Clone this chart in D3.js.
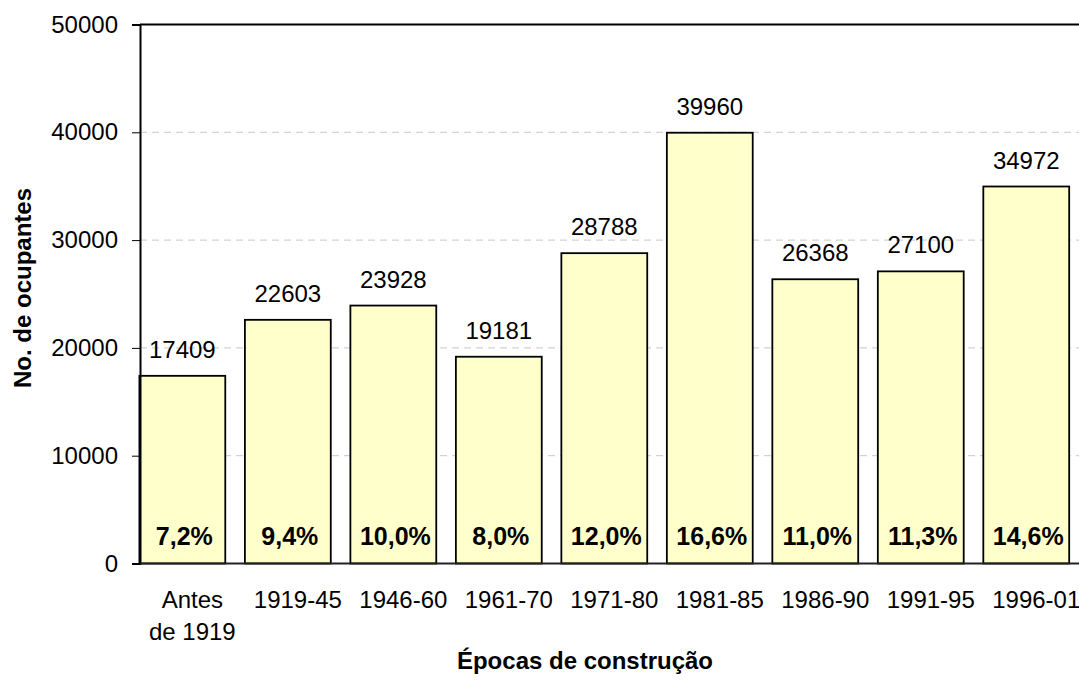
<!DOCTYPE html>
<html>
<head>
<meta charset="utf-8">
<script src="https://cdnjs.cloudflare.com/ajax/libs/d3/7.8.5/d3.min.js"></script>
<style>
  body { margin: 0; background: #fff; }
  svg { font-family: "Liberation Sans", Arial, sans-serif; }
</style>
</head>
<body>
<div id="chart"></div>
<script>
// data
var categories = ["Antes de 1919", "1919-45", "1946-60", "1961-70", "1971-80", "1981-85", "1986-90", "1991-95", "1996-01"];
var occupants = [17409, 22603, 23928, 19181, 28788, 39960, 26368, 27100, 34972];
var shares = ["7,2%", "9,4%", "10,0%", "8,0%", "12,0%", "16,6%", "11,0%", "11,3%", "14,6%"];
var yTicks = [0, 10000, 20000, 30000, 40000, 50000];

var svgWidth = 1079;
var svgHeight = 693;
var fontSize = "24px";

var svg = d3.select("#chart")
    .append("svg")
    .attr("width", svgWidth)
    .attr("height", svgHeight);

// scales
var x = d3.scaleBand()
    .domain(categories)
    .range([129.6, 1079])
    .paddingInner(0.186)
    .paddingOuter(0.093);

var y = d3.scaleLinear()
    .domain([0, 50000])
    .range([563.5, 24.5]);

var axisX = 140;

// gridlines
svg.append("g")
    .selectAll("line")
    .data(yTicks.filter(function(d) { return d > 0 && d < 50000; }))
    .enter()
    .append("line")
    .attr("x1", axisX)
    .attr("x2", svgWidth)
    .attr("y1", function(d) { return y(d); })
    .attr("y2", function(d) { return y(d); })
    .attr("stroke", "#c8c8c8")
    .attr("stroke-dasharray", "7,5")
    .attr("stroke-width", 1);

// top border of plot
svg.append("line")
    .attr("x1", axisX)
    .attr("x2", svgWidth)
    .attr("y1", y(50000))
    .attr("y2", y(50000))
    .attr("stroke", "#000")
    .attr("stroke-width", 2);

// bars
svg.append("g")
    .selectAll("rect")
    .data(occupants)
    .enter()
    .append("rect")
    .attr("x", function(d, i) { return x(categories[i]); })
    .attr("y", function(d) { return y(d); })
    .attr("width", x.bandwidth())
    .attr("height", function(d) { return y(0) - y(d); })
    .attr("fill", "#ffffcc")
    .attr("stroke", "#000")
    .attr("stroke-width", 1.8);

// value labels
svg.append("g")
    .selectAll("text")
    .data(occupants)
    .enter()
    .append("text")
    .attr("x", function(d, i) { return x(categories[i]) + x.bandwidth() / 2; })
    .attr("y", function(d) { return y(d) - 18; })
    .attr("text-anchor", "middle")
    .attr("font-size", fontSize)
    .text(function(d) { return d; });

// share labels
svg.append("g")
    .selectAll("text")
    .data(shares)
    .enter()
    .append("text")
    .attr("x", function(d, i) { return x(categories[i]) + x.bandwidth() / 2 + 2; })
    .attr("y", 545)
    .attr("text-anchor", "middle")
    .attr("font-size", "25px")
    .attr("font-weight", "bold")
    .text(function(d) { return d; });

// y axis
var yAxis = d3.axisLeft(y)
    .tickValues(yTicks)
    .tickSize(8)
    .tickPadding(14)
    .tickFormat(d3.format("d"));

var yG = svg.append("g")
    .attr("transform", "translate(" + axisX + ",0)")
    .call(yAxis);
yG.select(".domain").attr("stroke", "#000").attr("stroke-width", 2);
yG.selectAll(".tick line").attr("stroke", "#000");
yG.selectAll(".tick text")
    .attr("font-size", fontSize)
    .attr("font-family", "Liberation Sans, Arial, sans-serif")
    .attr("fill", "#000");

// x axis baseline
svg.append("line")
    .attr("x1", axisX)
    .attr("x2", svgWidth)
    .attr("y1", y(0))
    .attr("y2", y(0))
    .attr("stroke", "#222")
    .attr("stroke-width", 2);

// category labels (wrapped), sitting a little right of the bar centres
svg.append("g")
    .selectAll("text")
    .data(categories)
    .enter()
    .append("text")
    .attr("x", function(d) { return x(d) + x.bandwidth() / 2 + 10; })
    .attr("y", 600)
    .attr("text-anchor", "middle")
    .attr("font-size", fontSize)
    .each(function(d) {
        var lines = d === "Antes de 1919" ? ["Antes", "de 1919"] : [d];
        var t = d3.select(this);
        lines.forEach(function(line, k) {
            t.append("tspan")
                .attr("x", t.attr("x"))
                .attr("dy", k === 0 ? "0.35em" : "32px")
                .text(line);
        });
    });

// axis titles
svg.append("text")
    .attr("x", 585)
    .attr("y", 669)
    .attr("text-anchor", "middle")
    .attr("font-size", fontSize)
    .attr("font-weight", "bold")
    .text("Épocas de construção");

svg.append("text")
    .attr("transform", "translate(31,288) rotate(-90)")
    .attr("text-anchor", "middle")
    .attr("font-size", fontSize)
    .attr("font-weight", "bold")
    .text("No. de ocupantes");
</script>
</body>
</html>
